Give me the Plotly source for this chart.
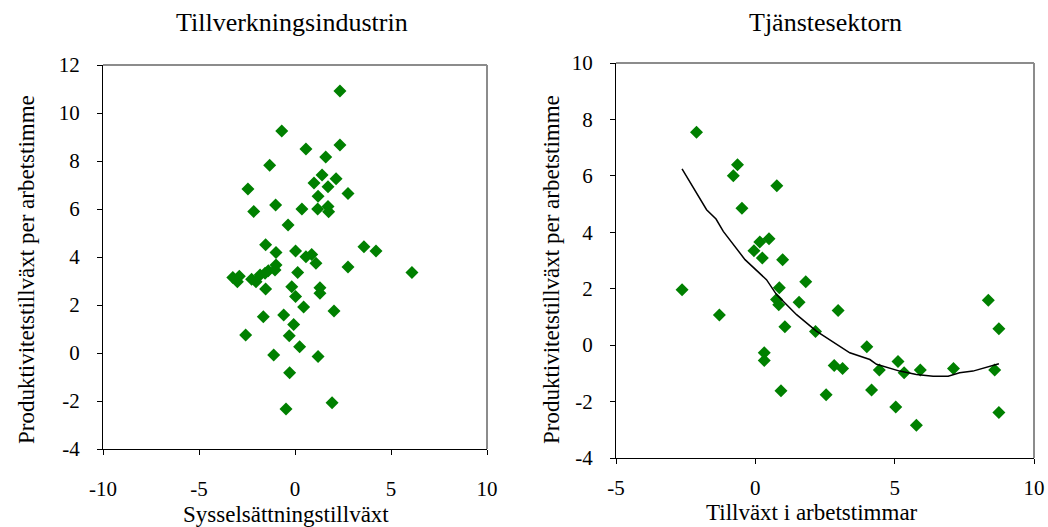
import plotly.graph_objects as go

# Tillverkningsindustrin: employment growth vs productivity growth per hour
manu_x = [2.34, -0.69, 2.34, 0.57, 1.60, -1.32, 1.41, 2.14, 0.99, 1.72,
          -2.45, 2.76, 1.20, -1.01, 0.36, 1.18, 1.72, 1.75, -2.15, -0.36,
          -1.53, 3.59, 4.22, -0.99, 0.03, 0.57, 0.87, 1.09, -0.99, 2.76,
          0.14, 6.09, -3.24, -2.90, -3.00, -2.26, -2.03, -1.82, -1.56, -1.39,
          -1.04, -1.53, -0.17, 0.03, 1.30, 1.30, 0.45, 2.03, -1.65, -0.59,
          -0.07, -0.30, -2.57, 0.24, -1.11, 1.20, -0.28, -0.47, 1.93]
manu_y = [10.92, 9.25, 8.67, 8.50, 8.17, 7.82, 7.42, 7.26, 7.08, 6.93,
          6.83, 6.65, 6.53, 6.17, 6.00, 6.00, 6.10, 5.89, 5.90, 5.33,
          4.51, 4.43, 4.25, 4.19, 4.25, 4.01, 4.10, 3.74, 3.67, 3.58,
          3.35, 3.35, 3.15, 3.20, 2.97, 3.07, 2.97, 3.25, 3.32, 3.43,
          3.46, 2.67, 2.76, 2.35, 2.72, 2.49, 1.92, 1.75, 1.51, 1.58,
          1.19, 0.72, 0.75, 0.26, -0.08, -0.15, -0.82, -2.33, -2.07]

# Tjänstesektorn: growth in hours worked vs productivity growth per hour
serv_x = [-2.11, -2.63, -1.29, -0.64, -0.79, -0.48, 0.77, -0.05, 0.16, 0.49,
          0.25, 0.98, 0.86, 0.76, 0.84, 1.81, 1.57, 1.06, 2.97, 2.16,
          0.32, 0.32, 0.92, 2.54, 2.83, 3.13, 4.00, 4.17, 4.45, 5.12,
          5.34, 5.04, 5.92, 5.78, 7.11, 8.36, 8.74, 8.59, 8.74]
serv_y = [7.55, 1.96, 1.07, 6.39, 6.00, 4.85, 5.65, 3.35, 3.66, 3.77,
          3.09, 3.03, 2.03, 1.62, 1.43, 2.25, 1.52, 0.65, 1.23, 0.48,
          -0.27, -0.54, -1.62, -1.76, -0.72, -0.83, -0.06, -1.59, -0.88, -0.58,
          -0.98, -2.19, -0.88, -2.84, -0.83, 1.59, 0.58, -0.88, -2.39]

# Smoothed trend for the service sector
trend_x = [-2.63, -1.75, -1.41, -1.15, -0.37, 0.40, 0.76, 1.48, 2.19, 3.39,
           4.11, 4.35, 5.18, 5.78, 6.38, 6.92, 7.33, 7.81, 8.74]
trend_y = [6.25, 4.80, 4.47, 4.03, 3.03, 2.32, 1.79, 1.08, 0.50, -0.27,
           -0.51, -0.68, -0.92, -1.04, -1.10, -1.10, -0.98, -0.92, -0.66]

# Tick values (labels use a plain hyphen for negatives)
manu_xticks = [-10, -5, 0, 5, 10]
manu_yticks = [-4, -2, 0, 2, 4, 6, 8, 10, 12]
serv_xticks = [-5, 0, 5, 10]
serv_yticks = [-4, -2, 0, 2, 4, 6, 8, 10]

W, H = 1048, 527
FONT = "Liberation Serif"
GREEN = "#008000"

fig = go.Figure()

marker = dict(symbol="diamond", size=10, color=GREEN, line=dict(width=0))
fig.add_trace(go.Scatter(x=manu_x, y=manu_y, mode="markers", marker=marker,
                         xaxis="x", yaxis="y", showlegend=False))
fig.add_trace(go.Scatter(x=serv_x, y=serv_y, mode="markers", marker=marker,
                         xaxis="x2", yaxis="y2", showlegend=False))
fig.add_trace(go.Scatter(x=trend_x, y=trend_y, mode="lines",
                         line=dict(color="black", width=1.5),
                         xaxis="x2", yaxis="y2", showlegend=False))

# plot areas in pixels
L = dict(x0=103, x1=487, y0=65, y1=449)
R = dict(x0=616, x1=1034, y0=63, y1=458)


def xdom(b):
    return [b["x0"] / W, b["x1"] / W]


def ydom(b):
    return [1 - b["y1"] / H, 1 - b["y0"] / H]


def labels(vals):
    return [str(v) for v in vals]


axis_common = dict(showgrid=False, zeroline=False, showline=True, linecolor="black",
                   linewidth=1, ticks="outside", ticklen=5, tickcolor="black",
                   automargin=False, tickmode="array",
                   tickfont=dict(family=FONT, size=21, color="black"))

fig.update_layout(
    width=W, height=H,
    margin=dict(l=0, r=0, t=0, b=0, autoexpand=False),
    paper_bgcolor="white", plot_bgcolor="white",
    xaxis=dict(domain=xdom(L), range=[-10, 10], anchor="y",
               tickvals=manu_xticks, ticktext=labels(manu_xticks),
               ticklabelstandoff=16, **axis_common),
    yaxis=dict(domain=ydom(L), range=[-4, 12], anchor="x",
               tickvals=manu_yticks, ticktext=labels(manu_yticks),
               ticklabelstandoff=13, **axis_common),
    xaxis2=dict(domain=xdom(R), range=[-5, 10], anchor="y2",
                tickvals=serv_xticks, ticktext=labels(serv_xticks),
                ticklabelstandoff=6, **axis_common),
    yaxis2=dict(domain=ydom(R), range=[-4, 10], anchor="x2",
                tickvals=serv_yticks, ticktext=labels(serv_yticks),
                ticklabelstandoff=13, **axis_common),
)

# gray frame on top and right of each plot area
for xr, yr in (("x domain", "y domain"), ("x2 domain", "y2 domain")):
    fig.add_shape(type="line", xref=xr, yref=yr, x0=0, x1=1, y0=1, y1=1,
                  line=dict(color="#8c8c8c", width=2))
    fig.add_shape(type="line", xref=xr, yref=yr, x0=1, x1=1, y0=0, y1=1,
                  line=dict(color="#8c8c8c", width=2))

title_font = dict(family=FONT, size=26, color="black")
label_font = dict(family=FONT, size=23, color="black")
ann = [
    dict(text="Tillverkningsindustrin", x=292 / W, y=1 - 22 / H, font=title_font),
    dict(text="Tjänstesektorn", x=825 / W, y=1 - 22 / H, font=title_font),
    dict(text="Sysselsättningstillväxt", x=286 / W, y=1 - 514 / H, font=label_font),
    dict(text="Tillväxt i arbetstimmar", x=812 / W, y=1 - 512 / H, font=label_font),
    dict(text="Produktivitetstillväxt per arbetstimme", x=26 / W, y=1 - 270 / H,
         textangle=-90, font=label_font),
    dict(text="Produktivitetstillväxt per arbetstimme", x=551 / W, y=1 - 270 / H,
         textangle=-90, font=label_font),
]
for a in ann:
    fig.add_annotation(xref="paper", yref="paper", showarrow=False,
                       xanchor="center", yanchor="middle", **a)

fig.write_html("out.html")
